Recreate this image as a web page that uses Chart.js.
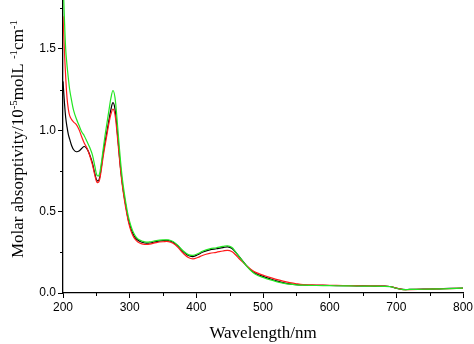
<!DOCTYPE html>
<html>
<head>
<meta charset="utf-8">
<script src="https://cdn.jsdelivr.net/npm/chart.js@4/dist/chart.umd.min.js"></script>
<style>
  html, body { margin: 0; padding: 0; background: #fff; }
  #wrap { width: 474px; height: 344px; }
</style>
</head>
<body>
<div id="wrap"><canvas id="c" width="474" height="344"></canvas></div>
<script>
// Absorption spectra: wavelength grid (nm) and molar absorptivity (10^-5 mol L^-1 cm^-1)
const wavelengths = [200,202,204,206,208,210,213,216,220,224,228,232,236,240,244,248,251,254,257,260,263,266,269,272,275,278,281,284,287,290,294,298,302,306,310,315,320,325,330,340,350,358,365,372,380,388,395,402,410,420,430,440,447,453,458,464,470,476,482,490,500,510,520,530,540,550,560,580,600,620,640,660,680,690,700,710,720,740,760,780,800];

const blackSeries = [1.30,1.18,1.08,1.02,0.975,0.945,0.905,0.88,0.868,0.872,0.888,0.900,0.885,0.850,0.800,0.730,0.690,0.695,0.760,0.850,0.925,0.995,1.065,1.130,1.170,1.130,1.010,0.870,0.740,0.640,0.540,0.450,0.395,0.355,0.332,0.318,0.310,0.306,0.307,0.316,0.322,0.322,0.312,0.290,0.255,0.230,0.224,0.235,0.252,0.265,0.272,0.279,0.283,0.275,0.255,0.225,0.195,0.165,0.140,0.118,0.102,0.088,0.075,0.064,0.056,0.051,0.049,0.047,0.046,0.045,0.044,0.043,0.042,0.040,0.030,0.022,0.022,0.024,0.025,0.028,0.030];

const redSeries = [1.70,1.50,1.33,1.20,1.13,1.09,1.065,1.05,1.035,1.005,0.960,0.920,0.890,0.845,0.790,0.720,0.680,0.685,0.745,0.830,0.905,0.975,1.045,1.100,1.130,1.095,0.985,0.855,0.730,0.630,0.525,0.440,0.380,0.343,0.322,0.307,0.300,0.298,0.300,0.310,0.315,0.316,0.305,0.282,0.245,0.218,0.210,0.218,0.232,0.243,0.250,0.258,0.262,0.255,0.238,0.212,0.188,0.165,0.145,0.125,0.110,0.096,0.084,0.073,0.064,0.057,0.052,0.049,0.047,0.046,0.045,0.044,0.043,0.040,0.030,0.021,0.021,0.023,0.025,0.027,0.029];

const greenSeries = [1.95,1.70,1.50,1.40,1.32,1.25,1.18,1.12,1.07,1.03,0.99,0.965,0.930,0.895,0.850,0.775,0.722,0.722,0.785,0.875,0.965,1.045,1.125,1.200,1.244,1.200,1.070,0.920,0.780,0.670,0.560,0.470,0.410,0.368,0.342,0.325,0.317,0.313,0.314,0.322,0.326,0.326,0.316,0.294,0.260,0.236,0.231,0.241,0.258,0.271,0.278,0.286,0.290,0.281,0.258,0.225,0.193,0.162,0.137,0.112,0.096,0.082,0.070,0.061,0.054,0.050,0.048,0.046,0.045,0.044,0.043,0.042,0.041,0.039,0.029,0.021,0.022,0.023,0.025,0.027,0.030];

const xMajorTicks = [200,300,400,500,600,700,800];
const xMinorTicks = [250,350,450,550,650,750];
const yMajorTicks = [0.0,0.5,1.0,1.5];
const yMinorTicks = [0.25,0.75,1.25,1.75];

function toPoints(values) {
  return wavelengths.map((w, i) => ({ x: w, y: values[i] }));
}

// Minor tick marks plus the rotated y title with superscripts
const axisExtras = {
  id: 'axisExtras',
  afterDraw(chart) {
    const ctx = chart.ctx;
    const xs = chart.scales.x, ys = chart.scales.y;
    const area = chart.chartArea;
    ctx.save();
    ctx.strokeStyle = '#000';
    ctx.lineWidth = 1;
    ctx.beginPath();
    xMinorTicks.forEach(v => {
      const px = Math.round(xs.getPixelForValue(v)) + 0.5;
      ctx.moveTo(px, area.bottom);
      ctx.lineTo(px, area.bottom + 3);
    });
    yMinorTicks.forEach(v => {
      const py = Math.round(ys.getPixelForValue(v)) + 0.5;
      ctx.moveTo(area.left, py);
      ctx.lineTo(area.left - 3, py);
    });
    ctx.stroke();

    // y-axis title
    const parts = [
      { t: 'Molar absorptivity/10', sup: false },
      { t: '-5', sup: true },
      { t: 'molL ', sup: false },
      { t: '-1', sup: true },
      { t: 'cm', sup: false },
      { t: '-1', sup: true }
    ];
    const big = '17px "Liberation Serif", "Times New Roman", serif';
    const small = '11px "Liberation Serif", "Times New Roman", serif';
    let total = 0;
    parts.forEach(p => { ctx.font = p.sup ? small : big; p.w = ctx.measureText(p.t).width; total += p.w; });
    ctx.translate(23, 139);
    ctx.rotate(-Math.PI / 2);
    ctx.fillStyle = '#000';
    ctx.textBaseline = 'alphabetic';
    let x = -total / 2;
    parts.forEach(p => {
      ctx.font = p.sup ? small : big;
      ctx.fillText(p.t, x, p.sup ? -6 : 0);
      x += p.w;
    });
    ctx.restore();
  }
};

const lineStyle = { borderWidth: 1.2, pointRadius: 0, tension: 0.4, fill: false };

new Chart(document.getElementById('c'), {
  type: 'line',
  data: {
    // first dataset is painted on top
    datasets: [
      Object.assign({ label: 'green', data: toPoints(greenSeries), borderColor: '#22e622' }, lineStyle),
      Object.assign({ label: 'red', data: toPoints(redSeries), borderColor: '#ff1a1a' }, lineStyle),
      Object.assign({ label: 'black', data: toPoints(blackSeries), borderColor: '#000000' }, lineStyle)
    ]
  },
  options: {
    responsive: false,
    animation: false,
    devicePixelRatio: 1,
    layout: { padding: { left: 0, right: 11, top: 0, bottom: 0 } },
    plugins: { legend: { display: false }, tooltip: { enabled: false } },
    scales: {
      x: {
        type: 'linear',
        min: 200, max: 800,
        afterBuildTicks(scale) { scale.ticks = xMajorTicks.map(v => ({ value: v })); },
        afterFit(scale) { scale.height = 51; scale.paddingLeft = 0; scale.paddingRight = 0; },
        grid: { drawOnChartArea: false, drawTicks: true, tickLength: 5, tickColor: '#000' },
        border: { color: '#000', width: 1.3 },
        ticks: {
          color: '#000', padding: 2, maxRotation: 0,
          font: { family: '"Liberation Sans", Arial, sans-serif', size: 12 },
          callback: v => String(v)
        },
        title: {
          display: true, text: 'Wavelength/nm', color: '#000',
          font: { family: '"Liberation Serif", "Times New Roman", serif', size: 17 },
          padding: { top: 2, bottom: 0 }
        }
      },
      y: {
        type: 'linear',
        min: 0, max: 1.8,
        afterBuildTicks(scale) { scale.ticks = yMajorTicks.map(v => ({ value: v })); },
        afterFit(scale) { scale.width = 63; scale.paddingTop = 0; scale.paddingBottom = 0; },
        grid: { drawOnChartArea: false, drawTicks: true, tickLength: 5, tickColor: '#000' },
        border: { color: '#000', width: 1.3 },
        ticks: {
          color: '#000', padding: 2,
          font: { family: '"Liberation Sans", Arial, sans-serif', size: 12 },
          callback: v => Number(v).toFixed(1)
        }
      }
    }
  },
  plugins: [axisExtras]
});
</script>
</body>
</html>
